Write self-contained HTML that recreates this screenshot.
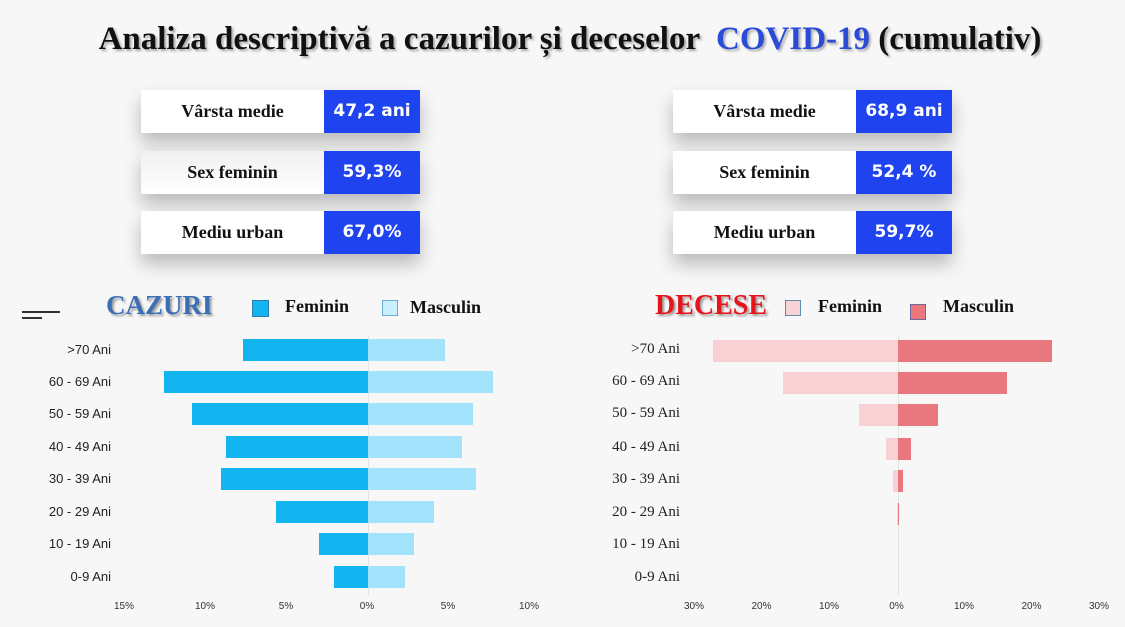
<!DOCTYPE html>
<html><head><meta charset="utf-8"><style>
body{margin:0;width:1125px;height:627px;background:#f7f7f7;position:relative;overflow:hidden;font-family:"Liberation Sans",sans-serif}
.a{position:absolute}
.t{left:0;width:1140px;top:21px;text-align:center;font:bold 33px "Liberation Serif",serif;color:#111;text-shadow:2px 2px 2px #aaa}
.box{position:absolute;height:43px;box-shadow:0 10px 18px rgba(0,0,0,.25)}
.w{position:absolute;left:0;top:0;height:43px;background:#fff;font:bold 18px "Liberation Serif",serif;text-align:center;line-height:43px;color:#111}
.b{position:absolute;top:0;height:43px;background:#1f44ef;color:#fff;font:bold 17px "DejaVu Sans",sans-serif;text-align:center;line-height:43px}
.bar{position:absolute;height:22px}
.lab{position:absolute;text-align:right;width:100px}
.tk{position:absolute;top:601px;font-size:10px;color:#333;width:40px;text-align:center}
.lg{position:absolute;font:bold 18px "Liberation Serif",serif;color:#111}
</style></head><body>
<div class="a t">Analiza descriptivă a cazurilor și deceselor &nbsp;<span style="color:#2a4bd7">COVID-19</span> (cumulativ)</div>

<div class="box" style="left:141px;top:90px;width:279px"><div class="w" style="width:183px">Vârsta medie</div><div class="b" style="left:183px;width:96px">47,2 ani</div></div>
<div class="box" style="left:141px;top:151px;width:279px"><div class="w" style="width:183px;background:linear-gradient(#f0f0f0,#fff)">Sex feminin</div><div class="b" style="left:183px;width:96px">59,3%</div></div>
<div class="box" style="left:141px;top:211px;width:279px"><div class="w" style="width:183px">Mediu urban</div><div class="b" style="left:183px;width:96px">67,0%</div></div>
<div class="box" style="left:673px;top:90px;width:279px"><div class="w" style="width:183px">Vârsta medie</div><div class="b" style="left:183px;width:96px">68,9 ani</div></div>
<div class="box" style="left:673px;top:151px;width:279px"><div class="w" style="width:183px">Sex feminin</div><div class="b" style="left:183px;width:96px">52,4 %</div></div>
<div class="box" style="left:673px;top:211px;width:279px"><div class="w" style="width:183px">Mediu urban</div><div class="b" style="left:183px;width:96px">59,7%</div></div>

<div class="a" style="left:22px;top:311px;width:38px;height:2px;background:#333"></div>
<div class="a" style="left:22px;top:317px;width:20px;height:2px;background:#333"></div>
<div class="a" style="left:106px;top:290px;font:bold 27px 'Liberation Serif',serif;color:#3b6fb5;text-shadow:2px 2px 2px #999">CAZURI</div>
<div class="a" style="left:252px;top:300px;width:15px;height:15px;background:#12b5f0;border:1px solid #2a7fb0"></div>
<div class="lg" style="left:285px;top:296px">Feminin</div>
<div class="a" style="left:382px;top:300px;width:14px;height:14px;background:#c9f0fd;border:1px solid #6ab0cc"></div>
<div class="lg" style="left:410px;top:297px">Masculin</div>

<div class="a" style="left:655px;top:290px;font:bold 28px 'Liberation Serif',serif;color:#e8141c;text-shadow:2px 2px 2px #999">DECESE</div>
<div class="a" style="left:785px;top:300px;width:14px;height:14px;background:#f9d2d6;border:1px solid #5a8fb0"></div>
<div class="lg" style="left:818px;top:296px">Feminin</div>
<div class="a" style="left:910px;top:304px;width:14px;height:14px;background:#e9777c;border:1px solid #6a6aa0"></div>
<div class="lg" style="left:943px;top:296px">Masculin</div>

<div class="a" style="left:368px;top:335px;width:1px;height:260px;background:#e4e4e4"></div>
<div class="a" style="left:898px;top:335px;width:1px;height:260px;background:#e4e4e4"></div>

<div id="c"></div>
<script>
var ys=[350,382,414,447,479,512,544,577];
var cl=[">70 Ani","60 - 69 Ani","50 - 59 Ani","40 - 49 Ani","30 - 39 Ani","20 - 29 Ani","10 - 19 Ani","0-9 Ani"];
var fl=[243,164,192,226,221,276,319,334],mr=[445,493,473,462,476,434,414,405];
var dl=[713,783,859,886,893,897,898,898],dr=[1052,1007,938,911,903,899,898,898];
var h="";
for(var i=0;i<8;i++){
 var y=ys[i]-11;
 h+='<div class="bar" style="left:'+fl[i]+'px;top:'+y+'px;width:'+(368-fl[i])+'px;background:#12b5f0"></div>';
 h+='<div class="bar" style="left:368px;top:'+y+'px;width:'+(mr[i]-368)+'px;background:#a2e2fa"></div>';
 var y2=ys[i]-10+i*0.2;
 h+='<div class="bar" style="left:'+dl[i]+'px;top:'+y2+'px;width:'+(898-dl[i])+'px;background:#f8d1d5"></div>';
 h+='<div class="bar" style="left:898px;top:'+y2+'px;width:'+(dr[i]-898)+'px;background:#e8787d"></div>';
 h+='<div class="lab" style="left:11px;top:'+(ys[i]-8)+'px;font-size:13px;color:#222">'+cl[i]+'</div>';
 h+='<div class="lab" style="left:580px;top:'+(ys[i]-9+i*0.2)+'px;font:15px \'Liberation Serif\',serif;color:#222">'+cl[i]+'</div>';
}
var t1=["15%","10%","5%","0%","5%","10%"];
for(var j=0;j<6;j++)h+='<div class="tk" style="left:'+(124+81*j-20)+'px">'+t1[j]+'</div>';
var t2=["30%","20%","10%","0%","10%","20%","30%"];
for(var j=0;j<7;j++)h+='<div class="tk" style="left:'+(694+67.5*j-20)+'px">'+t2[j]+'</div>';
document.getElementById("c").innerHTML=h;
</script>
</body></html>
